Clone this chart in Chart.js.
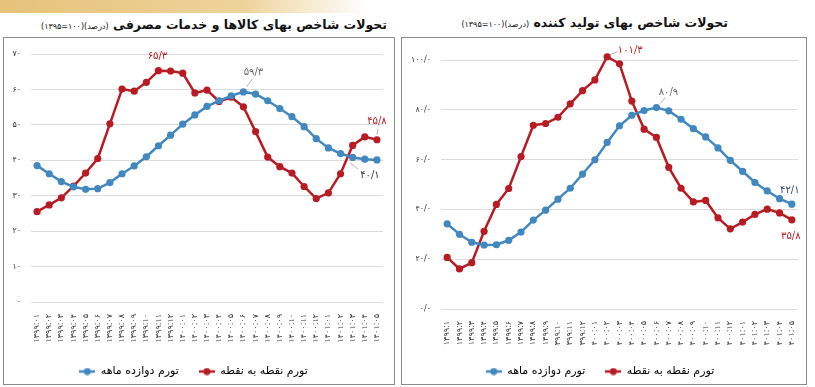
<!DOCTYPE html>
<html lang="fa">
<head>
<meta charset="utf-8">
<title>تحولات شاخص بها</title>
<script src="https://cdn.jsdelivr.net/npm/chart.js@4.4.1/dist/chart.umd.min.js"></script>
<style>
  html, body { margin: 0; padding: 0; background: #fff; }
  body { width: 815px; height: 387px; position: relative; overflow: hidden; font-family: "DejaVu Sans", sans-serif; }
  .nava { position: absolute; left: 0; top: 0; width: 815px; height: 13px;
          background: linear-gradient(to right, #e6c27a 0%, #eed39b 30%, rgba(255,255,255,0) 45%); }
  .titr { position: absolute; direction: rtl; white-space: nowrap; font-weight: bold; font-size: 12.5px; color: #111; }
  .titr small { font-weight: normal; font-size: 8px; }
  .kadr { position: absolute; border: 1px solid #8a8a8a; background: #fff; }
  .kadr canvas { display: block; }
</style>
</head>
<body>
<div class="nava"></div>
<div class="titr" style="right:428px; top:17px;">تحولات شاخص بهای کالاها و خدمات مصرفی <small>(درصد)(۱۰۰=۱۳۹۵)</small></div>
<div class="titr" style="right:87px; top:15px;">تحولات شاخص بهای تولید کننده <small>(درصد)(۱۰۰=۱۳۹۵)</small></div>

<div class="kadr" style="left:3px; top:37px; width:390px; height:346px;">
  <canvas id="nemoodar-masrafi" width="390" height="346"></canvas>
</div>
<div class="kadr" style="left:401px; top:37px; width:404px; height:346px;">
  <canvas id="nemoodar-tolid" width="404" height="346"></canvas>
</div>

<script>
// برچسب ماه‌ها (محور افقی)
const mahhaMasrafi = [
  '۱۳۹۹:۰۱','۱۳۹۹:۰۲','۱۳۹۹:۰۳','۱۳۹۹:۰۴','۱۳۹۹:۰۵','۱۳۹۹:۰۶','۱۳۹۹:۰۷','۱۳۹۹:۰۸','۱۳۹۹:۰۹','۱۳۹۹:۱۰','۱۳۹۹:۱۱','۱۳۹۹:۱۲',
  '۱۴۰۰:۰۱','۱۴۰۰:۰۲','۱۴۰۰:۰۳','۱۴۰۰:۰۴','۱۴۰۰:۰۵','۱۴۰۰:۰۶','۱۴۰۰:۰۷','۱۴۰۰:۰۸','۱۴۰۰:۰۹','۱۴۰۰:۱۰','۱۴۰۰:۱۱','۱۴۰۰:۱۲',
  '۱۴۰۱:۰۱','۱۴۰۱:۰۲','۱۴۰۱:۰۳','۱۴۰۱:۰۴','۱۴۰۱:۰۵'
];
const mahhaTolid = [
  '۱۳۹۹:۱','۱۳۹۹:۲','۱۳۹۹:۳','۱۳۹۹:۴','۱۳۹۹:۵','۱۳۹۹:۶','۱۳۹۹:۷','۱۳۹۹:۸','۱۳۹۹:۹','۱۳۹۹:۱۰','۱۳۹۹:۱۱','۱۳۹۹:۱۲',
  '۱۴۰۰:۰۱','۱۴۰۰:۰۲','۱۴۰۰:۰۳','۱۴۰۰:۰۴','۱۴۰۰:۰۵','۱۴۰۰:۰۶','۱۴۰۰:۰۷','۱۴۰۰:۰۸','۱۴۰۰:۰۹','۱۴۰۰:۱۰','۱۴۰۰:۱۱','۱۴۰۰:۱۲',
  '۱۴۰۱:۰۱','۱۴۰۱:۰۲','۱۴۰۱:۰۳','۱۴۰۱:۰۴','۱۴۰۱:۰۵'
];

// شاخص بهای کالاها و خدمات مصرفی
const masrafiDavazdahMahe = [38.5, 36.2, 34.0, 32.5, 31.8, 32.0, 33.7, 36.2, 38.4, 41.0, 44.1, 47.1, 50.2, 52.8, 55.2,
  56.8, 58.2, 59.3, 58.7, 56.8, 54.6, 52.3, 49.5, 46.1, 43.5, 41.9, 40.8, 40.3, 40.1];
const masrafiNoghteBeNoghte = [25.5, 27.4, 29.4, 32.7, 36.4, 40.5, 50.3, 60.1, 59.5, 62.0, 65.3, 65.2, 64.6, 59.0, 59.8,
  56.6, 57.8, 55.1, 48.1, 40.9, 38.2, 36.4, 32.6, 29.2, 30.8, 36.2, 44.2, 46.6, 45.8];

// شاخص بهای تولید کننده
const tolidDavazdahMahe = [34.2, 30.0, 26.8, 25.7, 25.8, 27.6, 30.9, 35.7, 39.7, 44.1, 48.5, 54.2, 59.9, 66.9, 73.6,
  77.8, 79.7, 80.9, 79.6, 76.2, 72.4, 69.1, 64.7, 59.7, 55.3, 50.8, 47.4, 44.3, 42.1];
const tolidNoghteBeNoghte = [20.7, 16.1, 18.6, 31.2, 42.0, 48.4, 61.2, 73.8, 74.5, 77.0, 82.4, 87.7, 92.0, 101.3, 98.5,
  83.5, 72.2, 68.9, 56.9, 48.5, 43.0, 43.6, 36.6, 32.2, 34.9, 38.0, 40.1, 38.6, 35.8];

// برچسب‌های محور عمودی
const tikMasrafi = ['۰', '۱۰', '۲۰', '۳۰', '۴۰', '۵۰', '۶۰', '۷۰'];
const tikTolid = ['۰/۰', '۲۰/۰', '۴۰/۰', '۶۰/۰', '۸۰/۰', '۱۰۰/۰'];

const abi = '#4187c0';
const ghermez = '#b81c22';

function adadFarsi(s) {
  return String(s).replace(/\d/g, d => '۰۱۲۳۴۵۶۷۸۹'[d]).replace('.', '/');
}

// علامت راهنما: خط با دایره وسط
function alamat(rang) {
  const c = document.createElement('canvas');
  c.width = 16; c.height = 8;
  const g = c.getContext('2d');
  g.strokeStyle = rang; g.lineWidth = 2.5;
  g.beginPath(); g.moveTo(0, 4); g.lineTo(16, 4); g.stroke();
  g.fillStyle = rang;
  g.beginPath(); g.arc(8, 4, 3.5, 0, Math.PI * 2); g.fill();
  return c;
}

// نوشتن مقدار کنار چند نقطه
const barchasbNoghat = {
  id: 'barchasbNoghat',
  afterDatasetsDraw(chart, args, opts) {
    const ctx = chart.ctx;
    ctx.save();
    ctx.font = '10px "DejaVu Sans"';
    ctx.textAlign = 'center';
    ctx.textBaseline = 'middle';
    (opts.items || []).forEach(it => {
      const p = chart.getDatasetMeta(it.ds).data[it.i];
      const v = chart.data.datasets[it.ds].data[it.i];
      if (it.khat) {
        ctx.strokeStyle = '#a0a0a0';
        ctx.lineWidth = 0.8;
        ctx.beginPath();
        ctx.moveTo(p.x + it.khat[0], p.y + it.khat[1]);
        ctx.lineTo(p.x + it.khat[2], p.y + it.khat[3]);
        ctx.stroke();
      }
      ctx.fillStyle = it.rang;
      ctx.fillText(adadFarsi(v.toFixed(1)), p.x + it.dx, p.y + it.dy);
    });
    ctx.restore();
  }
};

function sakhtNemoodar(id, mahha, davazdah, noghte, tikha, bishine, gam, yPahna, padding, xErtefa, items) {
  const ctx = document.getElementById(id).getContext('2d');
  return new Chart(ctx, {
    type: 'line',
    data: {
      labels: mahha,
      datasets: [
        { label: 'تورم دوازده ماهه', data: davazdah, borderColor: abi, backgroundColor: abi, alamat: alamat(abi) },
        { label: 'تورم نقطه به نقطه', data: noghte, borderColor: ghermez, backgroundColor: ghermez, alamat: alamat(ghermez) }
      ]
    },
    options: {
      responsive: false,
      animation: false,
      devicePixelRatio: 1,
      layout: { padding: padding },
      elements: {
        line: { borderWidth: 2.5, tension: 0 },
        point: { pointStyle: 'circle', radius: 3.6, borderWidth: 0, hoverRadius: 3.6 }
      },
      datasets: { line: { clip: false } },
      scales: {
        x: {
          offset: true,
          grid: { display: false },
          border: { display: false },
          afterFit: s => { s.height = xErtefa; },
          ticks: { autoSkip: false, minRotation: 90, maxRotation: 90, padding: 4,
                   color: '#333', font: { family: 'DejaVu Sans', size: 8 } }
        },
        y: {
          min: 0, max: bishine,
          grid: { color: '#dcdcdc', lineWidth: 1, drawTicks: false },
          border: { display: false },
          afterFit: s => { s.width = yPahna; },
          ticks: { stepSize: gam, padding: 10, color: '#333', font: { family: 'DejaVu Sans', size: 8 },
                   callback: (v, i) => tikha[i] }
        }
      },
      plugins: {
        tooltip: { enabled: false },
        legend: {
          position: 'bottom',
          labels: {
            usePointStyle: true, pointStyleWidth: 16, padding: 20,
            color: '#222', font: { family: 'DejaVu Sans', size: 11 },
            generateLabels: chart => chart.data.datasets.map((d, i) => ({
              text: d.label, pointStyle: d.alamat, fillStyle: d.borderColor,
              strokeStyle: d.borderColor, lineWidth: 0, datasetIndex: i, hidden: false
            }))
          }
        },
        barchasbNoghat: { items: items }
      }
    },
    plugins: [barchasbNoghat]
  });
}

sakhtNemoodar('nemoodar-masrafi', mahhaMasrafi, masrafiDavazdahMahe, masrafiNoghteBeNoghte, tikMasrafi, 70, 10,
  27, { left: 0, right: 11, top: 16, bottom: -3 }, 44, [
    { ds: 1, i: 10, dx: -1, dy: -14, rang: ghermez },
    { ds: 0, i: 17, dx: 10, dy: -20, rang: '#666', khat: [3, -5, 9, -13] },
    { ds: 1, i: 28, dx: 0, dy: -18, rang: ghermez, khat: [0, -5, 1, -11] },
    { ds: 0, i: 28, dx: -7, dy: 15, rang: '#333', khat: [-27, 3, -19, 9] }
  ]);

sakhtNemoodar('nemoodar-tolid', mahhaTolid, tolidDavazdahMahe, tolidNoghteBeNoghte, tikTolid, 100, 20,
  39, { left: 0, right: 8, top: 22, bottom: -3 }, 37, [
    { ds: 1, i: 13, dx: 23, dy: -6, rang: ghermez, khat: [3, -2, 10, -5] },
    { ds: 0, i: 17, dx: 12, dy: -15, rang: '#666', khat: [4, -4, 9, -10] },
    { ds: 0, i: 28, dx: -2, dy: -14, rang: '#34495e' },
    { ds: 1, i: 28, dx: -1, dy: 17, rang: ghermez }
  ]);
</script>
</body>
</html>
